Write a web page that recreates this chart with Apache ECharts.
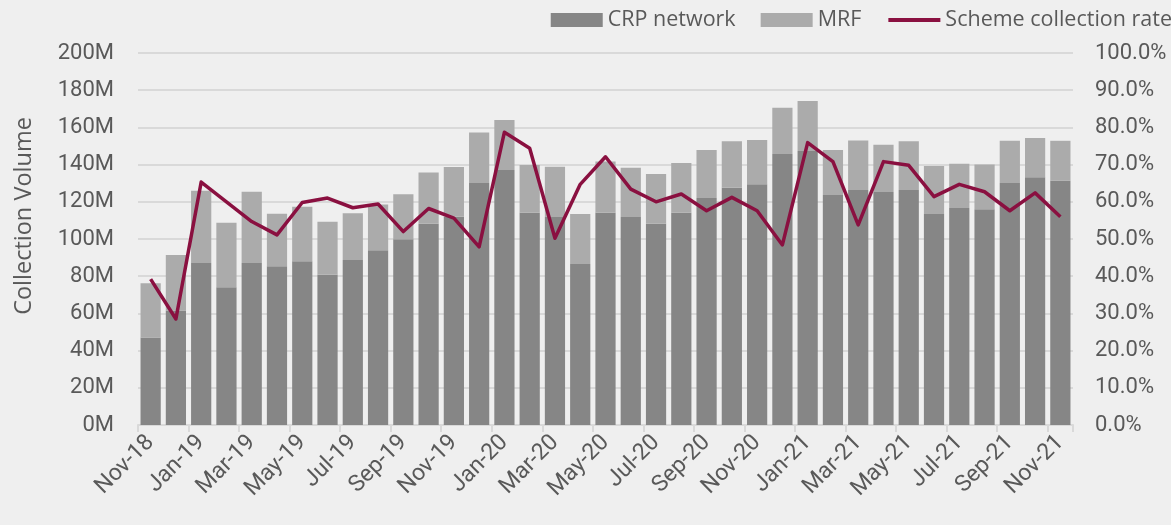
<!DOCTYPE html>
<html lang="en">
<head>
    <meta charset="utf-8">
    <script src="https://cdn.jsdelivr.net/npm/echarts@6/dist/echarts.min.js"></script>
    <title>Collection Volume</title>
    <style>
        html, body { margin: 0; padding: 0; background: #efefef; }
        #main { width: 1171px; height: 525px; }
    </style>
</head>
<body>
<div id="main"></div>
<script type="text/javascript">
    // months, Nov-18 .. Nov-21
    var months = ['Nov-18', 'Dec-18', 'Jan-19', 'Feb-19', 'Mar-19', 'Apr-19', 'May-19', 'Jun-19', 'Jul-19',
        'Aug-19', 'Sep-19', 'Oct-19', 'Nov-19', 'Dec-19', 'Jan-20', 'Feb-20', 'Mar-20', 'Apr-20', 'May-20',
        'Jun-20', 'Jul-20', 'Aug-20', 'Sep-20', 'Oct-20', 'Nov-20', 'Dec-20', 'Jan-21', 'Feb-21', 'Mar-21',
        'Apr-21', 'May-21', 'Jun-21', 'Jul-21', 'Aug-21', 'Sep-21', 'Oct-21', 'Nov-21'];

    // volumes in millions
    var crpNetwork = [47.1, 61.5, 87.1, 74.0, 87.1, 85.3, 88.0, 80.8, 88.7, 93.9, 99.8, 108.2, 112.0,
        130.1, 137.1, 114.1, 111.8, 86.6, 114.1, 111.8, 108.2, 114.1, 122.0, 127.6, 129.4,
        145.7, 147.3, 123.7, 126.3, 125.3, 126.3, 113.4, 116.7, 116.0, 130.1, 133.2, 131.3];
    var mrf = [29.1, 29.9, 38.9, 34.8, 38.3, 28.3, 29.4, 28.5, 25.1, 24.7, 24.2, 27.6, 26.7,
        27.2, 26.9, 25.7, 27.1, 26.8, 27.5, 26.5, 26.7, 26.8, 25.8, 24.9, 23.8,
        24.9, 26.9, 24.1, 26.7, 25.4, 26.2, 25.8, 23.8, 24.0, 22.7, 21.1, 21.5];
    // scheme collection rate, %
    var collectionRate = [39.2, 28.5, 65.3, 60.0, 54.7, 51.1, 59.8, 61.0, 58.4, 59.4, 52.0, 58.2, 55.6,
        47.9, 78.7, 74.4, 50.2, 64.7, 72.1, 63.4, 60.0, 62.1, 57.6, 61.2, 57.6,
        48.4, 75.9, 70.8, 53.8, 70.8, 69.8, 61.4, 64.7, 62.7, 57.6, 62.4, 56.0];

    var textColor = '#595959';
    var gridColor = '#d9d9d9';
    var rateColor = '#8a1040';

    var myChart = echarts.init(document.getElementById('main'), null, {renderer: 'canvas'});

    var option = {
        backgroundColor: '#efefef',
        animation: false,
        legend: {
            right: -6,
            top: 4,
            itemWidth: 52,
            itemHeight: 14,
            itemGap: 25,
            textStyle: {color: textColor, fontFamily: 'Open Sans', fontSize: 21.5},
            data: [
                {name: 'CRP network', icon: 'rect'},
                {name: 'MRF', icon: 'rect'},
                {name: 'Scheme collection rate', itemStyle: {opacity: 0}, lineStyle: {width: 4}}
            ]
        },
        grid: {left: 138, right: 98, top: 53, bottom: 100},
        xAxis: {
            type: 'category',
            data: months,
            axisLine: {lineStyle: {color: gridColor, width: 2}},
            axisTick: {show: true, interval: 1, length: 7, lineStyle: {color: gridColor, width: 2}},
            axisLabel: {
                interval: 1,
                rotate: 45,
                margin: 14,
                color: textColor,
                fontFamily: 'Roboto',
                fontSize: 23
            }
        },
        yAxis: [
            {
                type: 'value',
                min: 0,
                max: 200,
                interval: 20,
                name: 'Collection Volume',
                nameLocation: 'middle',
                nameGap: 102,
                nameTextStyle: {color: textColor, fontFamily: 'Open Sans', fontSize: 23.5, padding: [0, 0, 0, 46]},
                axisLabel: {
                    color: textColor,
                    fontFamily: 'Roboto',
                    fontSize: 22,
                    margin: 24,
                    formatter: function (v) { return v + 'M'; }
                },
                splitLine: {lineStyle: {color: gridColor, width: 2}}
            },
            {
                type: 'value',
                min: 0,
                max: 100,
                interval: 10,
                axisLabel: {
                    color: textColor,
                    fontFamily: 'Roboto',
                    fontSize: 22,
                    margin: 22,
                    formatter: function (v) { return v.toFixed(1) + '%'; }
                },
                splitLine: {show: false}
            }
        ],
        series: [
            {
                name: 'CRP network',
                type: 'bar',
                stack: 'vol',
                data: crpNetwork,
                barCategoryGap: '20%',
                itemStyle: {color: '#868686'}
            },
            {
                name: 'MRF',
                type: 'bar',
                stack: 'vol',
                data: mrf,
                itemStyle: {color: '#ababab'}
            },
            {
                name: 'Scheme collection rate',
                type: 'line',
                yAxisIndex: 1,
                data: collectionRate,
                symbol: 'none',
                lineStyle: {color: rateColor, width: 3.5, join: 'round'},
                itemStyle: {color: rateColor}
            }
        ]
    };

    myChart.setOption(option);
</script>
</body>
</html>
